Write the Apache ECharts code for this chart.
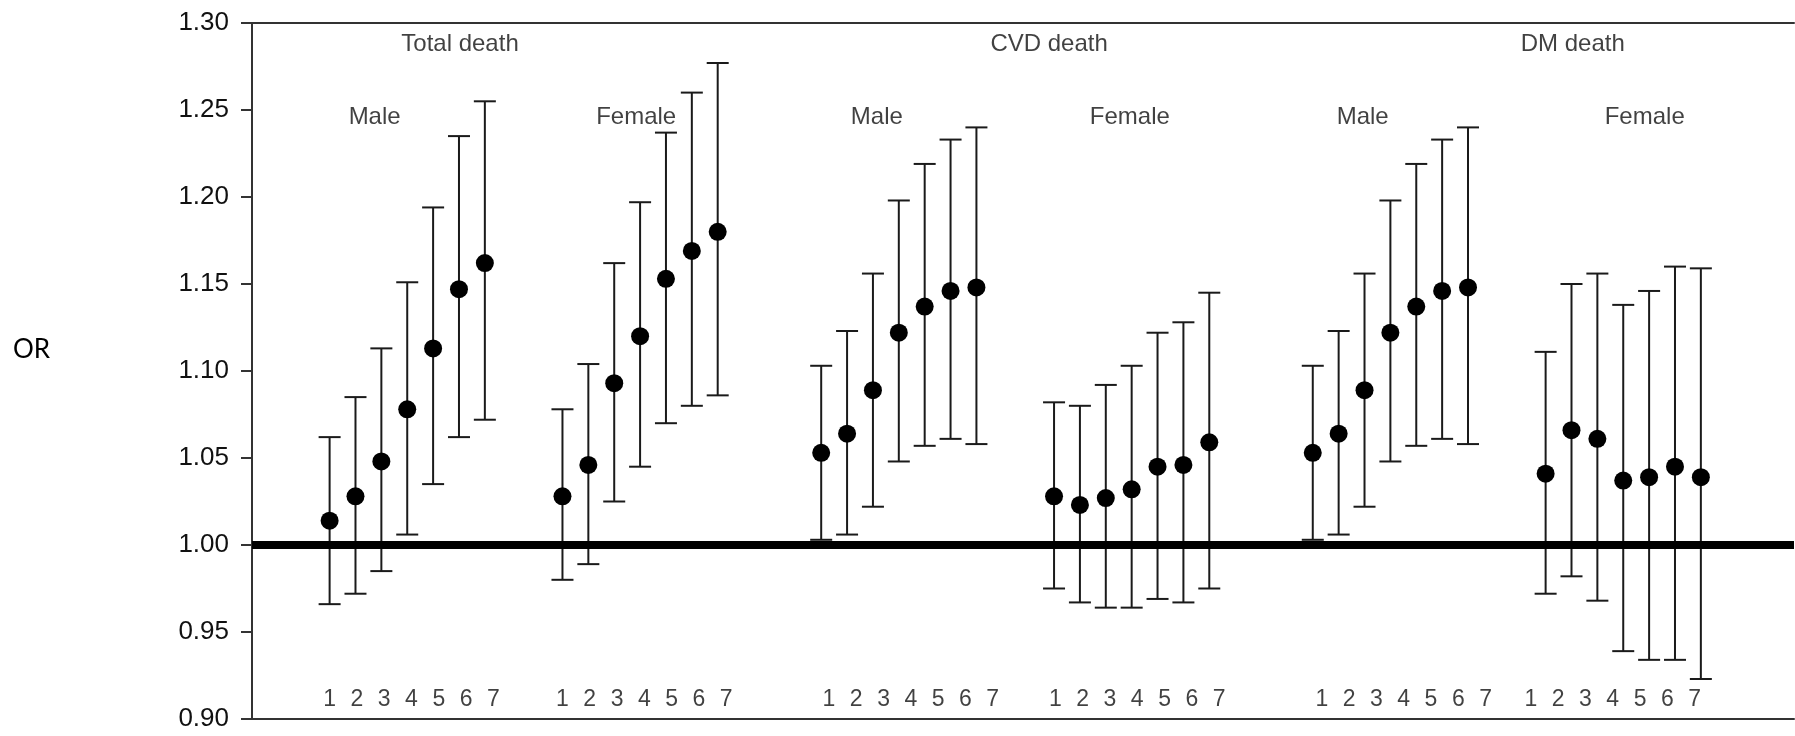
<!DOCTYPE html>
<html>
<head>
<meta charset="utf-8">
<script src="https://cdn.jsdelivr.net/npm/echarts@6/dist/echarts.min.js"></script>
<style>
  html, body { margin: 0; padding: 0; background: #fff; }
  #chart { width: 1795px; height: 736px; }
</style>
</head>
<body>
<div id="chart"></div>
<script>
// Panel headings and sub-group labels
const panelTitles = ['Total death', 'CVD death', 'DM death'];
const sexLabels = ['Male', 'Female', 'Male', 'Female', 'Male', 'Female'];
const levelLabels = ['1', '2', '3', '4', '5', '6', '7'];

// Odds ratios with 95% CI, levels 1..7 in each group
const totalMaleOR   = [1.014, 1.028, 1.048, 1.078, 1.113, 1.147, 1.162];
const totalMaleLow  = [0.966, 0.972, 0.985, 1.006, 1.035, 1.062, 1.072];
const totalMaleHigh = [1.062, 1.085, 1.113, 1.151, 1.194, 1.235, 1.255];

const totalFemaleOR   = [1.028, 1.046, 1.093, 1.120, 1.153, 1.169, 1.180];
const totalFemaleLow  = [0.980, 0.989, 1.025, 1.045, 1.070, 1.080, 1.086];
const totalFemaleHigh = [1.078, 1.104, 1.162, 1.197, 1.237, 1.260, 1.277];

const cvdMaleOR   = [1.053, 1.064, 1.089, 1.122, 1.137, 1.146, 1.148];
const cvdMaleLow  = [1.003, 1.006, 1.022, 1.048, 1.057, 1.061, 1.058];
const cvdMaleHigh = [1.103, 1.123, 1.156, 1.198, 1.219, 1.233, 1.240];

const cvdFemaleOR   = [1.028, 1.023, 1.027, 1.032, 1.045, 1.046, 1.059];
const cvdFemaleLow  = [0.975, 0.967, 0.964, 0.964, 0.969, 0.967, 0.975];
const cvdFemaleHigh = [1.082, 1.080, 1.092, 1.103, 1.122, 1.128, 1.145];

const dmMaleOR   = [1.053, 1.064, 1.089, 1.122, 1.137, 1.146, 1.148];
const dmMaleLow  = [1.003, 1.006, 1.022, 1.048, 1.057, 1.061, 1.058];
const dmMaleHigh = [1.103, 1.123, 1.156, 1.198, 1.219, 1.233, 1.240];

const dmFemaleOR   = [1.041, 1.066, 1.061, 1.037, 1.039, 1.045, 1.039];
const dmFemaleLow  = [0.972, 0.982, 0.968, 0.939, 0.934, 0.934, 0.923];
const dmFemaleHigh = [1.111, 1.150, 1.156, 1.138, 1.146, 1.160, 1.159];

const groups = [
  { or: totalMaleOR,   low: totalMaleLow,   high: totalMaleHigh },
  { or: totalFemaleOR, low: totalFemaleLow, high: totalFemaleHigh },
  { or: cvdMaleOR,     low: cvdMaleLow,     high: cvdMaleHigh },
  { or: cvdFemaleOR,   low: cvdFemaleLow,   high: cvdFemaleHigh },
  { or: dmMaleOR,      low: dmMaleLow,      high: dmMaleHigh },
  { or: dmFemaleOR,    low: dmFemaleLow,    high: dmFemaleHigh }
];

// Layout along the horizontal axis (axis units)
const groupStart = [1, 10, 20, 29, 39, 48];
const levelLabelStart = [1.0, 10.0, 20.3, 29.05, 39.35, 47.43];
const levelLabelStep = 1.055;
const panelTitleX = [6.04, 28.81, 49.05];
const sexLabelX = [2.74, 12.85, 22.15, 31.93, 40.93, 51.83];
const panelTitleY = 1.2875;
const sexLabelY = 1.2455;
const levelLabelY = 0.911;

const FONT = "'Liberation Sans', Arial, sans-serif";
const INK = '#111';

const points = [];
const bars = [];
groups.forEach((g, gi) => {
  g.or.forEach((v, i) => {
    const x = groupStart[gi] + i;
    points.push([x, v]);
    bars.push([x, g.low[i], g.high[i]]);
  });
});

const headingItems = [];
panelTitles.forEach((t, i) => headingItems.push({ name: t, value: [panelTitleX[i], panelTitleY] }));
sexLabels.forEach((t, i) => headingItems.push({ name: t, value: [sexLabelX[i], sexLabelY] }));

const levelItems = [];
levelLabelStart.forEach(s => {
  levelLabels.forEach((t, i) => levelItems.push({ name: t, value: [s + i * levelLabelStep, levelLabelY] }));
});

const chart = echarts.init(document.getElementById('chart'), null, { renderer: 'canvas' });

const xBase = {
  type: 'value', min: -2, max: 57.6,
  axisLine: { show: true, onZero: false, lineStyle: { color: '#333', width: 2 } },
  axisTick: { show: false }, axisLabel: { show: false }, splitLine: { show: false }
};

function textSeries(data, size) {
  return {
    type: 'scatter',
    z: 5,
    symbolSize: 0,
    silent: true,
    data: data,
    label: {
      show: true, position: 'inside', align: 'center', verticalAlign: 'middle',
      formatter: p => p.name,
      color: INK, fontFamily: FONT, fontSize: size
    }
  };
}

chart.setOption({
  animation: false,
  backgroundColor: '#fff',
  grid: { left: 252, right: 1, top: 23, bottom: 17 },
  xAxis: [
    Object.assign({}, xBase, { position: 'bottom' }),
    Object.assign({}, xBase, { position: 'top' })
  ],
  yAxis: {
    type: 'value', min: 0.9, max: 1.3, interval: 0.05,
    axisLine: { show: true, onZero: false, lineStyle: { color: '#333', width: 2 } },
    axisTick: { show: true, inside: false, length: 11, lineStyle: { color: '#333', width: 2 } },
    axisLabel: {
      margin: 23, color: INK, fontFamily: FONT, fontSize: 26,
      formatter: v => v.toFixed(2)
    },
    splitLine: { show: false }
  },
  graphic: [{
    type: 'text', left: 13, top: 337,
    style: { text: 'OR', font: "26px Lato, 'Open Sans', sans-serif", fill: '#000' }
  }],
  series: [
    {
      type: 'custom',
      z: 3,
      data: bars,
      renderItem(params, api) {
        const x = api.value(0);
        const lo = api.coord([x, api.value(1)]);
        const hi = api.coord([x, api.value(2)]);
        const hw = 11;
        const st = { stroke: '#1a1a1a', lineWidth: 2 };
        return {
          type: 'group',
          children: [
            { type: 'line', shape: { x1: hi[0], y1: hi[1], x2: lo[0], y2: lo[1] }, style: st },
            { type: 'line', shape: { x1: hi[0] - hw, y1: hi[1], x2: hi[0] + hw, y2: hi[1] }, style: st },
            { type: 'line', shape: { x1: lo[0] - hw, y1: lo[1], x2: lo[0] + hw, y2: lo[1] }, style: st }
          ]
        };
      }
    },
    {
      type: 'scatter',
      z: 4,
      symbol: 'circle',
      symbolSize: 18,
      itemStyle: { color: '#000', opacity: 1 },
      data: points,
      markLine: {
        silent: true,
        symbol: 'none',
        label: { show: false },
        lineStyle: { color: '#000', width: 8, type: 'solid', opacity: 1 },
        data: [{ yAxis: 1 }]
      }
    },
    textSeries(headingItems, 24),
    textSeries(levelItems, 23)
  ]
});
</script>
</body>
</html>
